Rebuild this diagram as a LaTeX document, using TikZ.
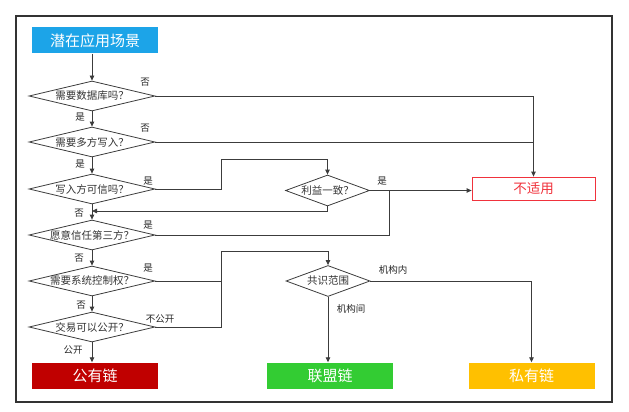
\documentclass[tikz,border=0pt]{standalone}
\usepackage{fontspec}
\setmainfont{Noto Sans CJK SC}
\usetikzlibrary{shapes.geometric,arrows.meta}
\definecolor{startc}{RGB}{28,164,232}
\definecolor{pubc}{RGB}{192,0,0}
\definecolor{allic}{RGB}{51,204,51}
\definecolor{privc}{RGB}{255,192,0}
\definecolor{nac}{RGB}{240,50,60}
\definecolor{linec}{RGB}{60,60,60}
\begin{document}
\begin{tikzpicture}[x=1pt,y=-1pt,
  dec/.style={diamond,draw=linec,line width=0.8pt,inner sep=0pt,shape aspect=4.2,
    minimum width=126pt,minimum height=30pt,font=\fontsize{10.5}{11}\selectfont,text=black!80},
  dsmall/.style={dec,minimum width=84pt,minimum height=31pt,shape aspect=3.2},
  termbox/.style={rectangle,inner sep=0pt,minimum width=126pt,minimum height=26pt,
    text=white,font=\fontsize{15}{16}\selectfont},
  lab/.style={font=\fontsize{9.5}{10}\selectfont,text=black!85,inner sep=0pt},
  conn/.style={draw=linec,line width=0.8pt},
  arr/.style={conn,-{Triangle[length=5pt,width=4.5pt]}}]
\useasboundingbox (0,0) rectangle (629,412);
\draw[line width=1.4pt,draw=black!80] (16,16) rectangle (612,402);

\node[termbox,fill=startc] (start) at (95,40.5) {潜在应用场景};
\node[dec] (d1) at (92,96) {需要数据库吗？};
\node[dec] (d2) at (92,142) {需要多方写入？};
\node[dec] (d3) at (92,189) {写入方可信吗？};
\node[dec] (d4) at (92,235) {愿意信任第三方？};
\node[dec] (d5) at (92,281) {需要系统控制权？};
\node[dec] (d6) at (92,327) {交易可以公开？};
\node[termbox,fill=pubc] (pub) at (95,375.5) {公有链};

\node[dsmall] (int) at (327.5,190.5) {利益一致？};
\node[dsmall] (cons) at (328,281) {共识范围};

\node[rectangle,draw=nac,line width=0.8pt,text=nac,minimum width=123pt,minimum height=23pt,
  inner sep=0pt,font=\fontsize{13.5}{14}\selectfont] (na) at (533.5,188.5) {不适用};
\node[termbox,fill=allic] (alli) at (330,375.5) {联盟链};
\node[termbox,fill=privc] (priv) at (531.5,375.5) {私有链};

\coordinate (j1) at (221,159);
\coordinate (j2) at (389,190.5);
\coordinate (j3) at (221,251);
\coordinate (j4) at (221,281);
\coordinate (m1) at (92,211);

% main column
\draw[arr] (start.south -| d1.north) -- (d1.north);
\draw[arr] (d1) -- (d2);
\draw[arr] (d2) -- (d3);
\draw[arr] (d3) -- (d4);
\draw[arr] (d4) -- (d5);
\draw[arr] (d5) -- (d6);
\draw[arr] (d6.south) -- (d6.south |- pub.north);

% no branches to not applicable
\draw[arr] (d1.east) -| (na.north);
\draw[conn] (d2.east) -- (d2.east -| na.north);

% trusted writer -> interest
\draw[conn] (d3.east) -| (j1);
\draw[arr] (j1) -| (int.north);
\draw[arr] (int.east) -- (int.east -| na.west);
\draw[arr] (int.south) |- (m1);
\draw[conn] (d4.east) -| (j2);

% control -> consensus
\draw[conn] (d5.east) -| (j3);
\draw[arr] (j3) -| (cons.north);
\draw[conn] (d6.east) -| (j4);
\draw[arr] (cons.east) -| (priv.north);
\draw[arr] (cons.south) -- (cons.south |- alli.north);

% labels
\node[lab] (l1) at (145,82) {否};
\node[lab] (l2) at (80,117) {是};
\node[lab] (l3) at (145,128.5) {否};
\node[lab] (l4) at (80,164) {是};
\node[lab] (l5) at (148,181) {是};
\node[lab] (l6) at (79,213) {否};
\node[lab] (l7) at (382,181) {是};
\node[lab] (l8) at (148,225) {是};
\node[lab] (l9) at (79,258) {否};
\node[lab] (l10) at (148,268) {是};
\node[lab] (l11) at (81,305) {否};
\node[lab] (l12) at (160,319.5) {不公开};
\node[lab] (l13) at (73,350.5) {公开};
\node[lab] (l14) at (393,270) {机构内};
\node[lab] (l15) at (351,308.5) {机构间};
\end{tikzpicture}
\end{document}
